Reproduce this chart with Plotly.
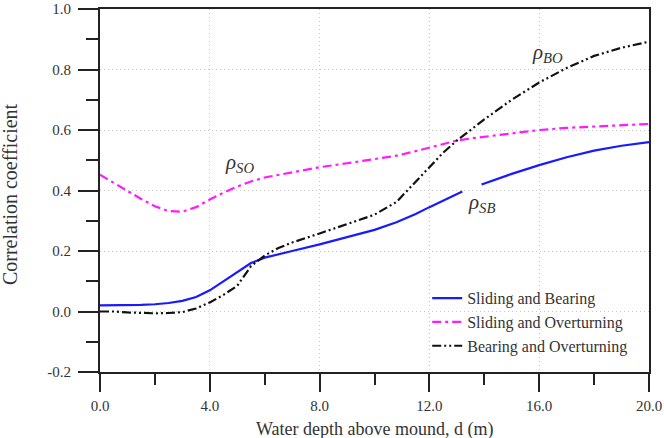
import plotly.graph_objects as go

# Water depth above mound d (m)
depth = [0, 0.5, 1, 1.5, 2, 2.5, 3, 3.5, 4, 4.5, 5, 5.5, 6, 6.5, 7, 8, 9, 10, 10.8,
         11.5, 12, 12.5, 13, 13.5, 14, 15, 16, 17, 18, 19, 20]

# Sliding and Bearing (rho_SB) - has a gap where the label sits
depth_sb = [0, 0.5, 1, 1.5, 2, 2.5, 3, 3.5, 4, 4.5, 5, 5.5, 6, 6.5, 7, 8, 9, 10, 10.8,
            11.5, 12, 12.5, 13, 13.2, 13.55, 13.9, 15, 16, 17, 18, 19, 20]
rho_sb = [0.020, 0.020, 0.021, 0.022, 0.024, 0.028, 0.035, 0.048, 0.070, 0.100, 0.130,
          0.160, 0.178, 0.190, 0.200, 0.222, 0.246, 0.270, 0.295,
          0.322, 0.345, 0.367, 0.390, 0.397, None, 0.420, 0.455, 0.484, 0.510, 0.532, 0.548, 0.560]

# Sliding and Overturning (rho_SO)
rho_so = [0.452, 0.425, 0.398, 0.372, 0.348, 0.332, 0.330, 0.345, 0.370, 0.393, 0.413,
          0.430, 0.443, 0.452, 0.460, 0.477, 0.490, 0.503, 0.515,
          0.530, 0.542, 0.555, 0.565, 0.572, 0.578, 0.590, 0.600, 0.607, 0.612, 0.617, 0.620]

# Bearing and Overturning (rho_BO)
rho_bo = [0.000, 0.000, -0.003, -0.005, -0.006, -0.005, -0.002, 0.010, 0.030, 0.055, 0.085,
          0.150, 0.185, 0.210, 0.228, 0.258, 0.288, 0.320, 0.362,
          0.430, 0.480, 0.525, 0.565, 0.600, 0.635, 0.700, 0.757, 0.805, 0.845, 0.872, 0.892]

series_names = ["Sliding and Bearing", "Sliding and Overturning", "Bearing and Overturning"]

x_ticks = [0, 4, 8, 12, 16, 20]
x_ticktext = ["0.0", "4.0", "8.0", "12.0", "16.0", "20.0"]
y_ticks = [-0.2, 0.0, 0.2, 0.4, 0.6, 0.8, 1.0]
y_ticktext = ["-0.2", "0.0", "0.2", "0.4", "0.6", "0.8", "1.0"]

x_title = "Water depth above mound, d (m)"
y_title = "Correlation coefficient"

# curve labels: (x, y, text)
curve_labels = [
    (5.1, 0.49, "<i>ρ</i><sub><i>SO</i></sub>"),
    (16.3, 0.855, "<i>ρ</i><sub><i>BO</i></sub>"),
    (13.9, 0.36, "<i>ρ</i><sub><i>SB</i></sub>"),
]

serif = "Liberation Serif, Times New Roman, serif"
txt = "#333333"
grid = "#c8c8c8"

fig = go.Figure()
fig.add_trace(go.Scatter(x=depth_sb, y=rho_sb, mode="lines", name=series_names[0],
                         connectgaps=False,
                         line=dict(color="#1a1aff", width=2.2)))
fig.add_trace(go.Scatter(x=depth, y=rho_so, mode="lines", name=series_names[1],
                         line=dict(color="#ff1aff", width=2.2, dash="9px,4px,3px,4px")))
fig.add_trace(go.Scatter(x=depth, y=rho_bo, mode="lines", name=series_names[2],
                         line=dict(color="#111111", width=2.2, dash="9px,3px,2px,3px,2px,3px")))

for lx, ly, lt in curve_labels:
    fig.add_annotation(x=lx, y=ly, text=lt, showarrow=False,
                       font=dict(family=serif, size=21, color="#333333"))

# axis titles as paper-anchored annotations (positioned like the original)
fig.add_annotation(xref="paper", yref="paper", x=0.5, y=-0.158, xanchor="center",
                   yanchor="middle", text=x_title, showarrow=False,
                   font=dict(family=serif, size=18, color=txt))
fig.add_annotation(xref="paper", yref="paper", x=-0.164, y=0.49, xanchor="center",
                   yanchor="middle", text=y_title, showarrow=False, textangle=-90,
                   font=dict(family=serif, size=20, color=txt))

fig.update_layout(
    width=664, height=438,
    margin=dict(l=100, r=15, t=9, b=66, autoexpand=False),
    paper_bgcolor="white", plot_bgcolor="white",
    font=dict(family=serif, size=15, color=txt),
    showlegend=True,
    legend=dict(x=0.596, y=0.25, xanchor="left", yanchor="top",
                bgcolor="rgba(0,0,0,0)", font=dict(family=serif, size=16, color=txt),
                tracegroupgap=0),
)

fig.update_xaxes(
    range=[0, 20], tickvals=x_ticks, ticktext=x_ticktext,
    automargin=False, ticklabeloverflow="allow",
    showline=True, linecolor="#222", linewidth=2, mirror=True,
    ticks="outside", ticklen=18, tickwidth=2, tickcolor="#222",
    ticklabelstandoff=1,
    minor=dict(tickvals=[2, 6, 10, 14, 18], ticks="outside", ticklen=11, tickwidth=2,
               tickcolor="#222", showgrid=False),
    showgrid=True, gridcolor=grid, griddash="1px,3px", gridwidth=1,
    zeroline=False,
)
fig.update_yaxes(
    range=[-0.2, 1.0], tickvals=y_ticks, ticktext=y_ticktext,
    automargin=False, ticklabeloverflow="allow",
    showline=True, linecolor="#222", linewidth=2, mirror=True,
    ticks="outside", ticklen=20, tickwidth=2, tickcolor="#222",
    ticklabelstandoff=4,
    minor=dict(tickvals=[-0.1, 0.1, 0.3, 0.5, 0.7, 0.9], ticks="outside", ticklen=12,
               tickwidth=2, tickcolor="#222", showgrid=False),
    showgrid=True, gridcolor=grid, griddash="1px,3px", gridwidth=1,
    zeroline=False,
)

fig.write_html("out.html")
